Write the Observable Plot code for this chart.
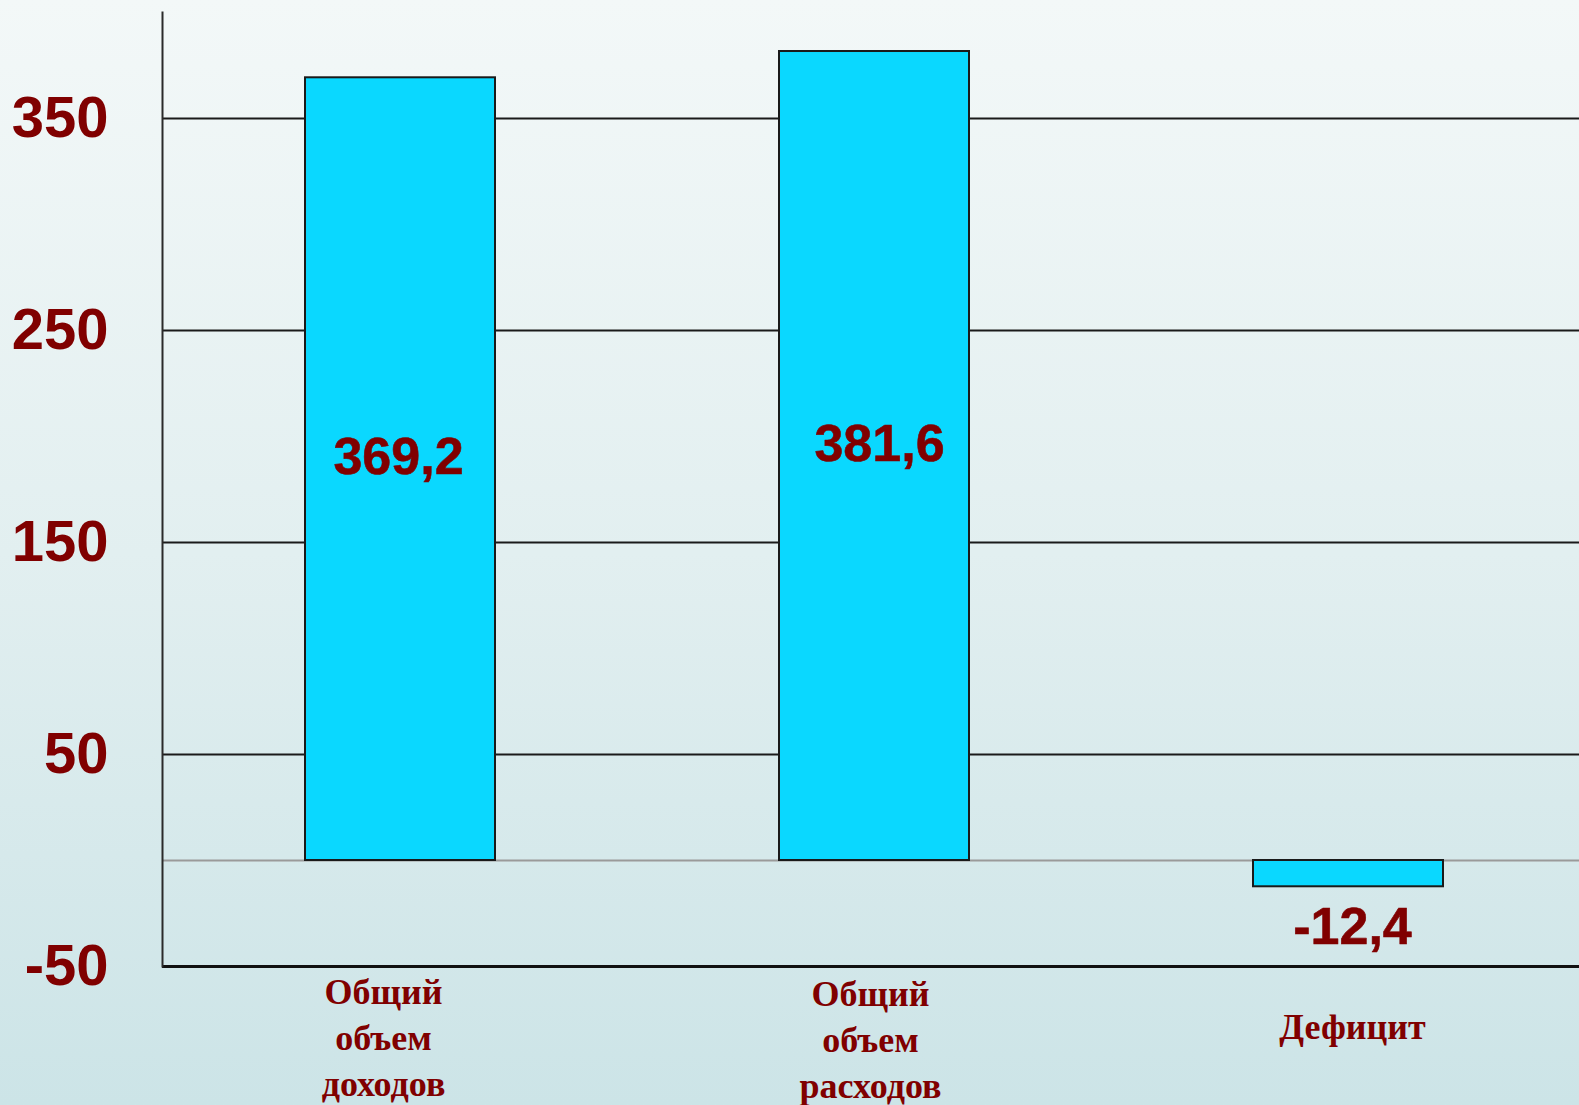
<!DOCTYPE html>
<html>
<head>
<meta charset="utf-8">
<script src="https://cdn.jsdelivr.net/npm/d3@7"></script>
<script src="https://cdn.jsdelivr.net/npm/@observablehq/plot@0.6"></script>
<style>
  html, body { margin: 0; padding: 0; overflow: hidden; }
  body { width: 1579px; height: 1105px; }
</style>
</head>
<body>
<div id="chart"></div>
<script>
const categories = ["Общий\nобъем\nдоходов", "Общий\nобъем\nрасходов", "Дефицит"];
const values = [369.2, 381.6, -12.4];
const yTicks = [350, 250, 150, 50, -50];

const data = categories.map((c, i) => ({ category: c, value: values[i] }));
const fmt = v => String(v).replace(".", ",");
const red = "#800000";
const sans = "Liberation Sans, Arial, sans-serif";
const serif = "Liberation Serif, Times New Roman, serif";

const labelDx = [-17, -4, 4];
const labelDy = [69, 71, 58];
const valueDx = [-2, 5, 4];

const plot = Plot.plot({
  width: 1579,
  height: 1105,
  marginTop: 12,
  marginBottom: 139,
  marginLeft: 162,
  marginRight: 0,
  style: {
    background: "linear-gradient(to bottom, #f3f8f8 0%, #e2eff0 50%, #cce4e7 100%)",
    overflow: "hidden"
  },
  x: { domain: categories, range: [162, 1585], paddingInner: 0.6, paddingOuter: 0.3, axis: null },
  y: { domain: [-50, 400], axis: null, label: null },
  marks: [
    Plot.ruleY(yTicks.filter(t => t > -50), { stroke: "#1a1a1a", strokeWidth: 2 }),
    Plot.ruleY([0], { stroke: "#9a9a9a", strokeWidth: 2 }),
    Plot.barY(data, { x: "category", y: "value", fill: "#0ad8ff", stroke: "#1a1a1a", strokeWidth: 2 }),
    Plot.ruleY([-50], { stroke: "#111", strokeWidth: 3 }),
    Plot.frame({ anchor: "left", stroke: "#2a2a2a", strokeWidth: 2 }),
    Plot.axisY(yTicks, {
      tickSize: 0, tickPadding: 54, tickFormat: d => String(d), label: null,
      fontSize: 58, fontWeight: "bold", fontFamily: sans, fill: red,
      stroke: red, strokeWidth: 0.8
    }),
    ...data.map((d, i) => Plot.text([d], {
      x: "category",
      y: d.value > 0 ? v => v.value / 2 : "value",
      text: v => fmt(v.value),
      dy: d.value > 0 ? -12 : 41, dx: valueDx[i],
      fontSize: 52, fontWeight: "bold", fontFamily: sans, fill: red,
      stroke: red, strokeWidth: 0.6
    })),
    ...categories.map((c, i) => Plot.text([c], {
      x: d => d, frameAnchor: "bottom", text: d => d,
      dx: labelDx[i], dy: labelDy[i], lineAnchor: "middle", lineHeight: 1.28,
      fontSize: 36, fontWeight: "bold", fontFamily: serif, fill: red
    }))
  ]
});
document.getElementById("chart").appendChild(plot);
</script>
</body>
</html>
